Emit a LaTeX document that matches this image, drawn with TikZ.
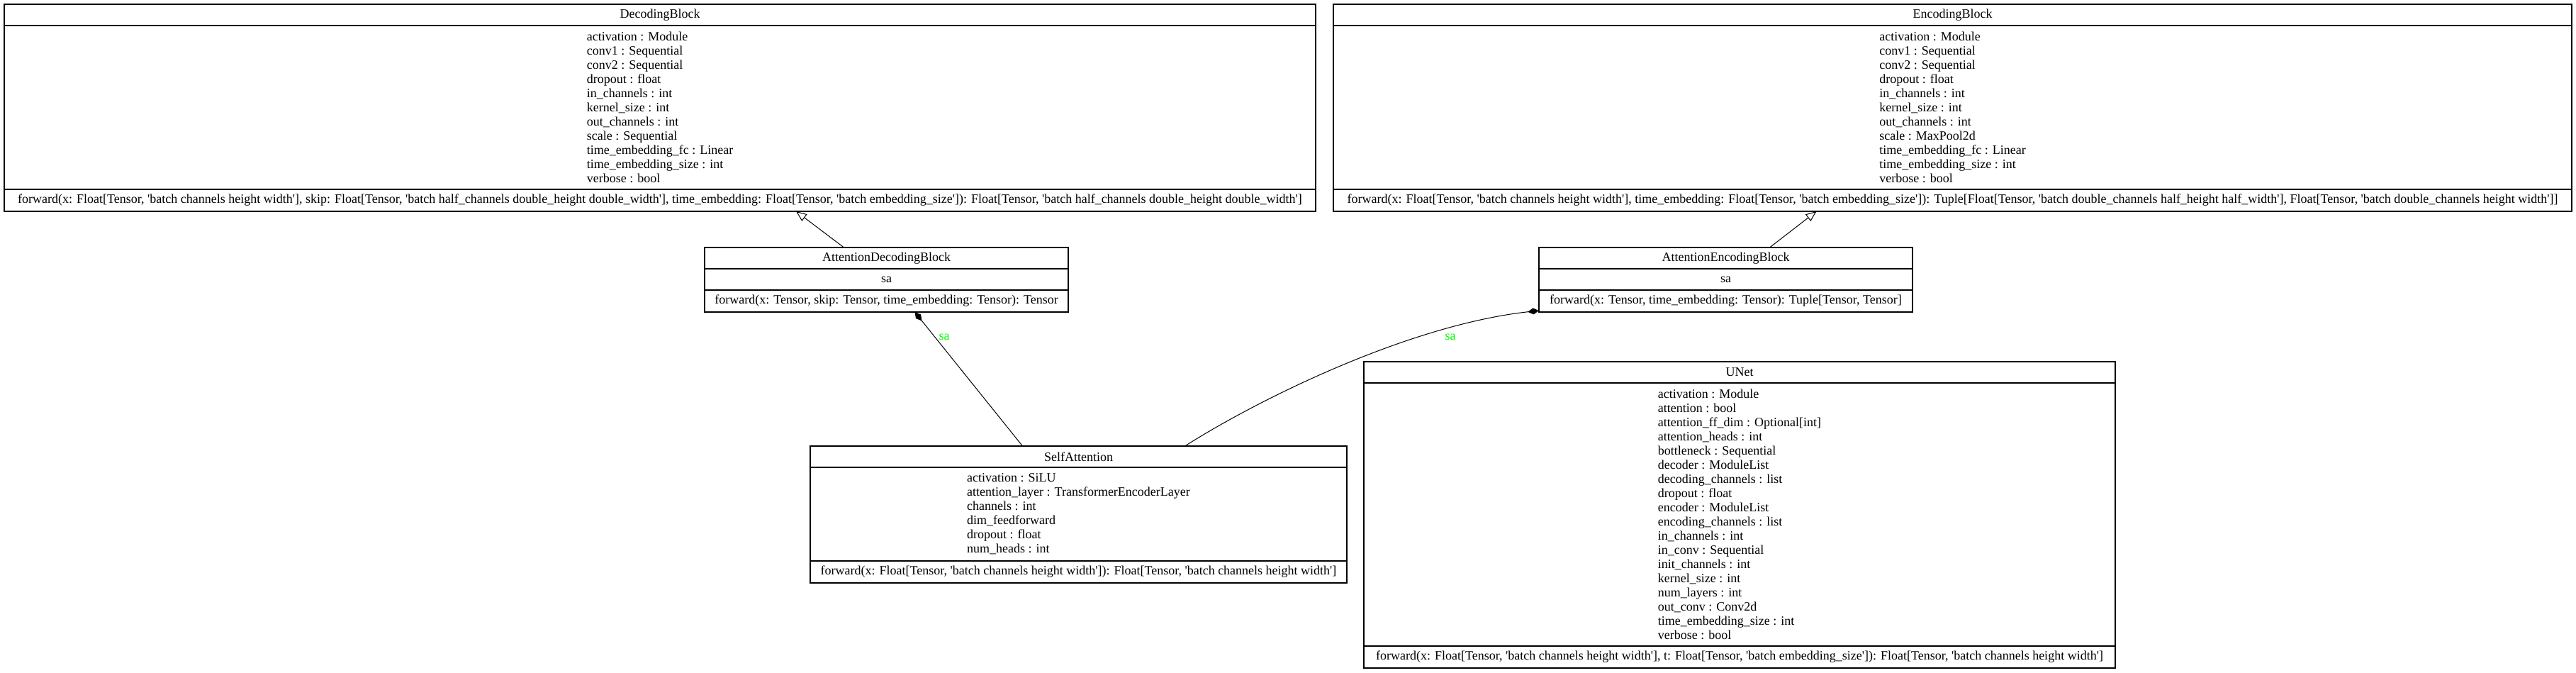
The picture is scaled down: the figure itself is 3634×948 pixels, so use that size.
\documentclass[tikz,border=0pt]{standalone}
\usepackage{fontspec}
\setmainfont{Liberation Serif}[Ligatures=TeXOff]
\usetikzlibrary{arrows.meta,calc}
\definecolor{lblgreen}{rgb}{0,1,0}
\tikzset{
  cls/.style={draw=black, line width=1.2pt, anchor=north west, inner sep=0pt, outer sep=0pt},
  sepline/.style={draw=black, line width=1.2pt},
  txt/.style={inner sep=0pt, font=\fontsize{18}{20}\selectfont},
  conn/.style={line width=1pt},
  inherit/.style={conn, -{Triangle[open, length=15pt, width=12pt]}},
  compose/.style={conn, -{Diamond[length=16pt, width=9pt]}},
  lbl/.style={txt, text=lblgreen}
}
\newcommand\umlbox[8]{%
  \node[cls, minimum width=#4pt, minimum height=#5pt] (#1) at (#2,#3) {};
  \draw[sepline] ([yshift=-30pt]#1.north west) -- ([yshift=-30pt]#1.north east);
  \draw[sepline] ([yshift=31pt]#1.south west) -- ([yshift=31pt]#1.south east);
  \node[txt] (#1T) at ([yshift=-15pt]#1.north) {#6};
  \node[txt, align=left] (#1A) at ([yshift=0.5pt]#1.center) {#7};
  \node[txt] (#1M) at ([yshift=15.5pt]#1.south) {#8};
}
\begin{document}
\begin{tikzpicture}[x=1pt, y=-1pt]
\path[fill=white] (0,0) rectangle (3634,948);
\useasboundingbox (0,0) rectangle (3634,948);

\umlbox{db}{6}{6}{1850}{292}{DecodingBlock}{activation : Module\\conv1 : Sequential\\conv2 : Sequential\\dropout : float\\in\_channels : int\\kernel\_size : int\\out\_channels : int\\scale : Sequential\\time\_embedding\_fc : Linear\\time\_embedding\_size : int\\verbose : bool}{forward(x: Float[Tensor, 'batch channels height width'], skip: Float[Tensor, 'batch half\_channels double\_height double\_width'], time\_embedding: Float[Tensor, 'batch embedding\_size']): Float[Tensor, 'batch half\_channels double\_height double\_width']}

\umlbox{eb}{1881}{6}{1747}{292}{EncodingBlock}{activation : Module\\conv1 : Sequential\\conv2 : Sequential\\dropout : float\\in\_channels : int\\kernel\_size : int\\out\_channels : int\\scale : MaxPool2d\\time\_embedding\_fc : Linear\\time\_embedding\_size : int\\verbose : bool}{forward(x: Float[Tensor, 'batch channels height width'], time\_embedding: Float[Tensor, 'batch embedding\_size']): Tuple[Float[Tensor, 'batch double\_channels half\_height half\_width'], Float[Tensor, 'batch double\_channels height width']]}

\umlbox{adb}{994}{349}{513}{91}{AttentionDecodingBlock}{sa}{forward(x: Tensor, skip: Tensor, time\_embedding: Tensor): Tensor}

\umlbox{aeb}{2171}{349}{527}{91}{AttentionEncodingBlock}{sa}{forward(x: Tensor, time\_embedding: Tensor): Tuple[Tensor, Tensor]}

\umlbox{selfatt}{1143}{629}{757}{193}{SelfAttention}{activation : SiLU\\attention\_layer : TransformerEncoderLayer\\channels : int\\dim\_feedforward\\dropout : float\\num\_heads : int}{forward(x: Float[Tensor, 'batch channels height width']): Float[Tensor, 'batch channels height width']}

\umlbox{unet}{1924}{510}{1060}{432}{UNet}{activation : Module\\attention : bool\\attention\_ff\_dim : Optional[int]\\attention\_heads : int\\bottleneck : Sequential\\decoder : ModuleList\\decoding\_channels : list\\dropout : float\\encoder : ModuleList\\encoding\_channels : list\\in\_channels : int\\in\_conv : Sequential\\init\_channels : int\\kernel\_size : int\\num\_layers : int\\out\_conv : Conv2d\\time\_embedding\_size : int\\verbose : bool}{forward(x: Float[Tensor, 'batch channels height width'], t: Float[Tensor, 'batch embedding\_size']): Float[Tensor, 'batch channels height width']}

\draw[inherit] ([xshift=-60pt]adb.north) -- ([xshift=192pt]db.south);
\draw[inherit] ([xshift=62pt]aeb.north) -- ([xshift=-192pt]eb.south);
\draw[compose] ([xshift=-79pt]selfatt.north) -- ([xshift=40pt]adb.south);
\draw[compose] ([xshift=150pt]selfatt.north) .. controls +(109,-69) and +(-181,20) .. ([yshift=2pt]aeb.south west);

\node[lbl] (lbl1) at (1332,475) {sa};
\node[lbl] (lbl2) at (2046,475) {sa};
\end{tikzpicture}
\end{document}
